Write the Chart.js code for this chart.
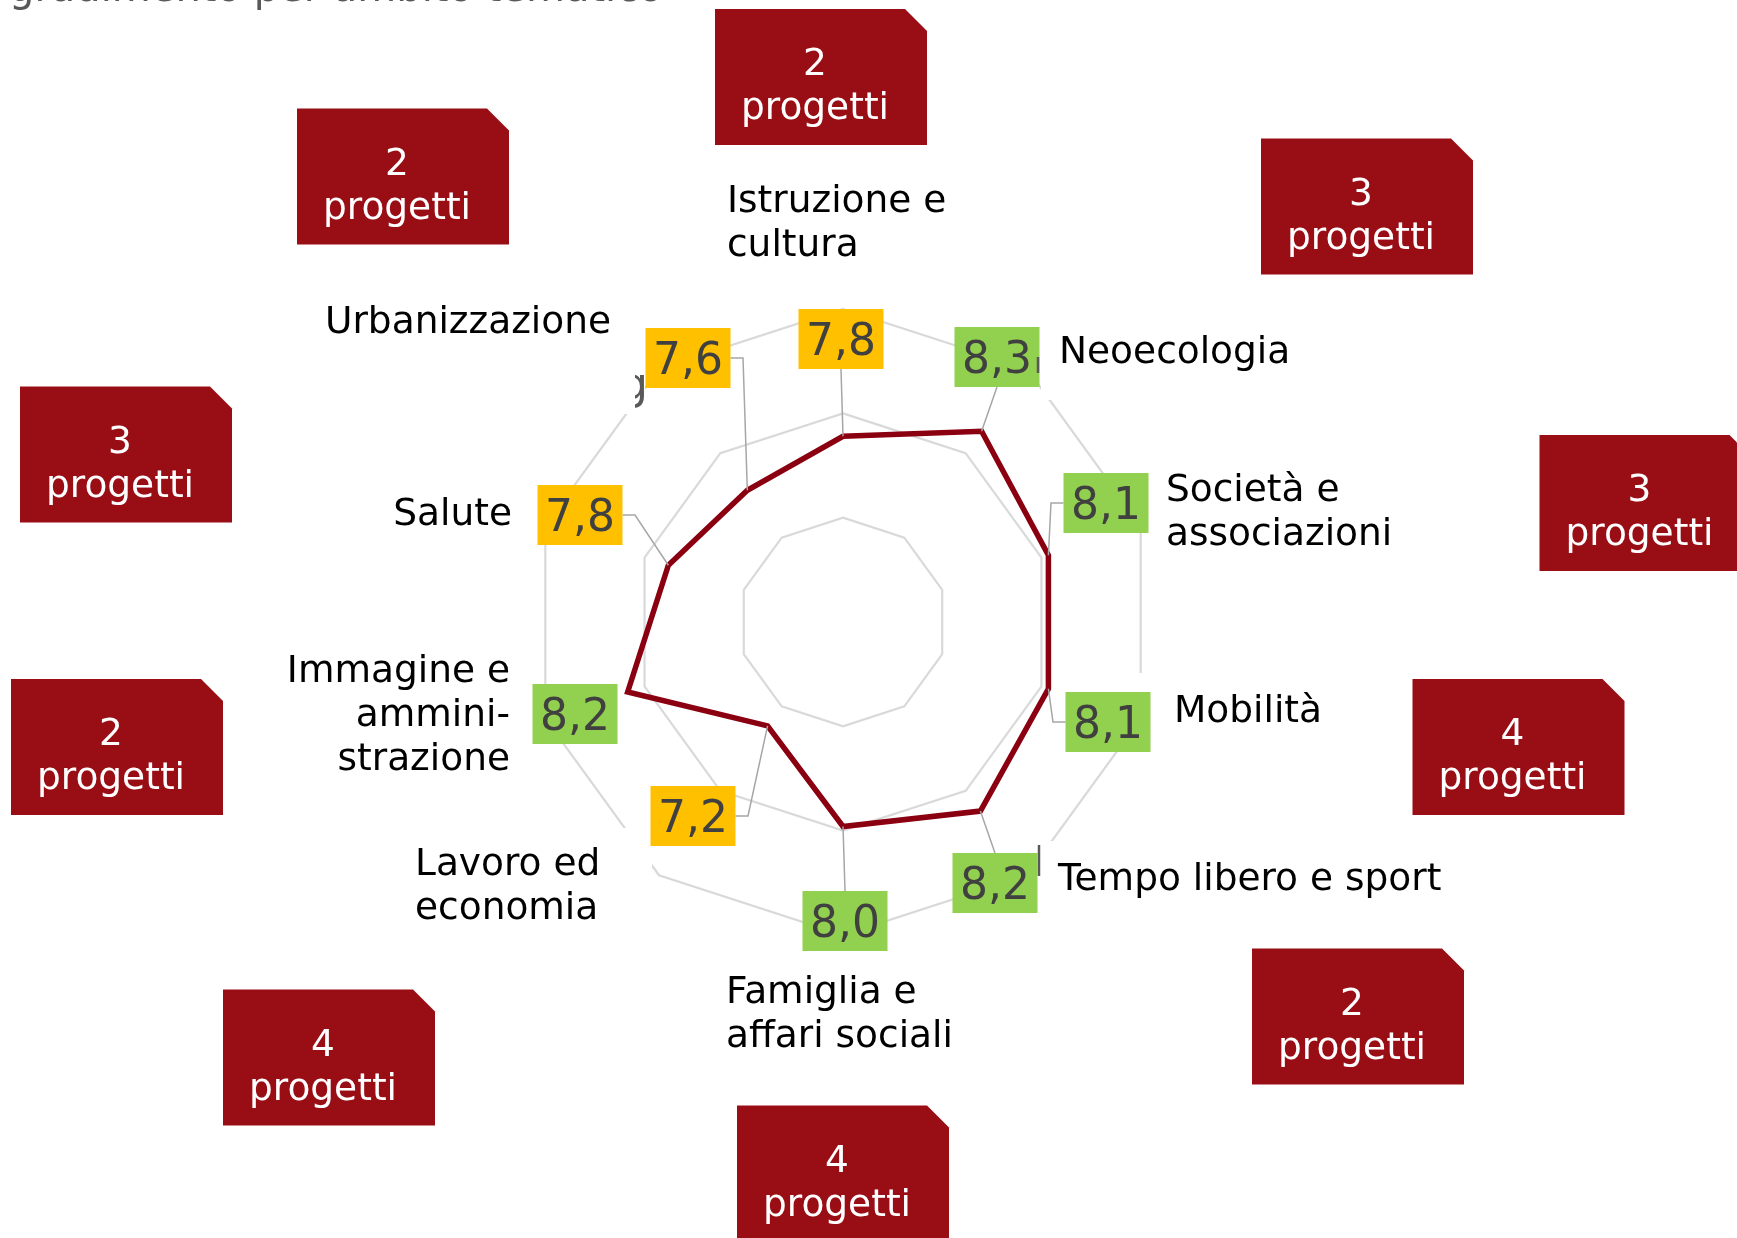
<!DOCTYPE html>
<html>
<head>
<meta charset="utf-8">
<script src="https://cdn.jsdelivr.net/npm/chart.js@4.4.1/dist/chart.umd.min.js"></script>
<style>
  html, body { margin: 0; padding: 0; background: #fff; }
  #wrap { width: 1737px; height: 1238px; position: relative; overflow: hidden; }
</style>
</head>
<body>
<div id="wrap"><canvas id="radar" width="1737" height="1238"></canvas></div>
<script>
// --- dati ---
const categorie = [
    ['Istruzione e', 'cultura'],
    ['Neoecologia'],
    ['Società e', 'associazioni'],
    ['Mobilità'],
    ['Tempo libero e sport'],
    ['Famiglia e', 'affari sociali'],
    ['Lavoro ed', 'economia'],
    ['Immagine e', 'ammini-', 'strazione'],
    ['Salute'],
    ['Urbanizzazione']
];
const valutazioni = [7.78, 8.26, 8.07, 8.07, 8.24, 7.96, 7.23, 8.17, 7.76, 7.56];
const progetti = [2, 3, 3, 4, 2, 4, 4, 2, 3, 2];
const scalaMin = 6;
const scalaMax = 9;
const scalaPasso = 1;
const titolo = 'gradimento per ambito tematico';

// --- layout dei richiami (offset in px dal centro del radar) ---
const posValori = [[-2, -283], [154, -265], [263, -119], [265, 100], [152, 261], [2, 299], [-150, 194], [-268, 92], [-263, -107], [-155, -264]];
const leader = ['bottom', 'bottom', 'left', 'left', 'top', 'top', 'right', null, 'right', 'right'];
const posEtichette = [[-116, -410, 'left'], [216, -259.5, 'left'], [323, -121.5, 'left'], [331, 100, 'left'], [215, 268, 'left'],
    [-117, 381, 'left'], [-428, 253, 'left'], [-333, 59.5, 'right'], [-331, -97, 'right'], [-518, -288.7, 'left']];
const posProgetti = [[-128, -613], [418, -483.5], [696.5, -187], [569.5, 57], [409, 326.5], [-106, 483.5], [-620, 367.5], [-832, 57], [-823, -235.5], [-546, -513.5]];
// riempimenti bianchi delle caselle di testo che coprono la griglia
const maschere = [[198, -292, 447, -222], [294, 51, 487, 123], [193, 219, 607, 283], [-443, 206, -191, 313], [-283, -260, -198, -208]];
const tratti = [[195, -265, -249], [196, 223, 254]];

const FONT = '"DejaVu Sans", Verdana, sans-serif';
const fmt = v => v.toFixed(1).replace('.', ',');

const callouts = {
    id: 'callouts',
    afterDatasetsDraw(chart) {
        const ctx = chart.ctx;
        const r = chart.scales.r;
        const cx = r.xCenter, cy = r.yCenter;
        const pts = chart.getDatasetMeta(0).data;
        ctx.save();
        ctx.textBaseline = 'alphabetic';

        ctx.fillStyle = '#ffffff';
        maschere.forEach(([x1, y1, x2, y2]) => ctx.fillRect(cx + x1, cy + y1, x2 - x1, y2 - y1));

        // frammento di testo nascosto
        ctx.save();
        ctx.beginPath();
        ctx.rect(cx - 208, cy - 260, 60, 60);
        ctx.clip();
        ctx.fillStyle = '#595959';
        ctx.font = `44px ${FONT}`;
        ctx.textAlign = 'left';
        ctx.fillText('g', cx - 223, cy - 223);
        ctx.restore();

        // linee guida
        ctx.strokeStyle = '#A6A6A6';
        ctx.lineWidth = 1.5;
        valutazioni.forEach((v, i) => {
            const tipo = leader[i];
            if (!tipo) return;
            const bx = cx + posValori[i][0], by = cy + posValori[i][1];
            const p = pts[i];
            ctx.beginPath();
            if (tipo === 'bottom') ctx.moveTo(bx, by + 30);
            else if (tipo === 'top') ctx.moveTo(bx, by - 30);
            else if (tipo === 'left') { ctx.moveTo(bx - 42.5, by); ctx.lineTo(bx - 55, by); }
            else { ctx.moveTo(bx + 42.5, by); ctx.lineTo(bx + 55, by); }
            ctx.lineTo(p.x, p.y);
            ctx.stroke();
        });

        // etichette dei valori
        ctx.font = `44px ${FONT}`;
        ctx.textAlign = 'center';
        valutazioni.forEach((v, i) => {
            const bx = cx + posValori[i][0], by = cy + posValori[i][1];
            ctx.fillStyle = Number(v.toFixed(1)) >= 8 ? '#92D050' : '#FFC000';
            ctx.fillRect(bx - 42.5, by - 30, 85, 60);
            ctx.fillStyle = '#404040';
            ctx.fillText(fmt(v), bx, by + 16);
        });

        // nomi delle categorie
        ctx.font = `37.5px ${FONT}`;
        ctx.fillStyle = '#000000';
        categorie.forEach((righe, i) => {
            const [dx, dy, al] = posEtichette[i];
            ctx.textAlign = al;
            righe.forEach((t, k) => ctx.fillText(t, cx + dx, cy + dy + k * 44));
        });

        // caselle progetti
        ctx.font = `37.5px ${FONT}`;
        ctx.textAlign = 'center';
        progetti.forEach((n, i) => {
            const x = cx + posProgetti[i][0], y = cy + posProgetti[i][1];
            ctx.fillStyle = '#990E15';
            ctx.beginPath();
            ctx.moveTo(x, y);
            ctx.lineTo(x + 190, y);
            ctx.lineTo(x + 212, y + 22);
            ctx.lineTo(x + 212, y + 136);
            ctx.lineTo(x, y + 136);
            ctx.closePath();
            ctx.fill();
            ctx.fillStyle = '#ffffff';
            ctx.fillText(String(n), x + 100, y + 66);
            ctx.fillText('progetti', x + 100, y + 110);
        });

        ctx.strokeStyle = '#595959';
        ctx.lineWidth = 2.5;
        tratti.forEach(([dx, y1, y2]) => {
            ctx.beginPath();
            ctx.moveTo(cx + dx, cy + y1);
            ctx.lineTo(cx + dx, cy + y2);
            ctx.stroke();
        });

        // titolo tagliato in alto
        ctx.fillStyle = '#595959';
        ctx.font = `40px ${FONT}`;
        ctx.textAlign = 'left';
        ctx.fillText(titolo, 9, 0.5);

        ctx.restore();
    }
};

new Chart(document.getElementById('radar'), {
    type: 'radar',
    data: {
        labels: categorie,
        datasets: [{
            data: valutazioni,
            borderColor: '#8B0011',
            borderWidth: 5.5,
            pointRadius: 0,
            fill: false
        }]
    },
    options: {
        responsive: false,
        animation: false,
        layout: { padding: { left: 530, right: 580, top: 309, bottom: 302 } },
        plugins: { legend: { display: false }, tooltip: { enabled: false } },
        scales: {
            r: {
                min: scalaMin,
                max: scalaMax,
                ticks: { display: false, stepSize: scalaPasso },
                grid: { color: '#D9D9D9', lineWidth: 2.2 },
                angleLines: { display: false },
                pointLabels: { display: false }
            }
        }
    },
    plugins: [callouts]
});
</script>
</body>
</html>
